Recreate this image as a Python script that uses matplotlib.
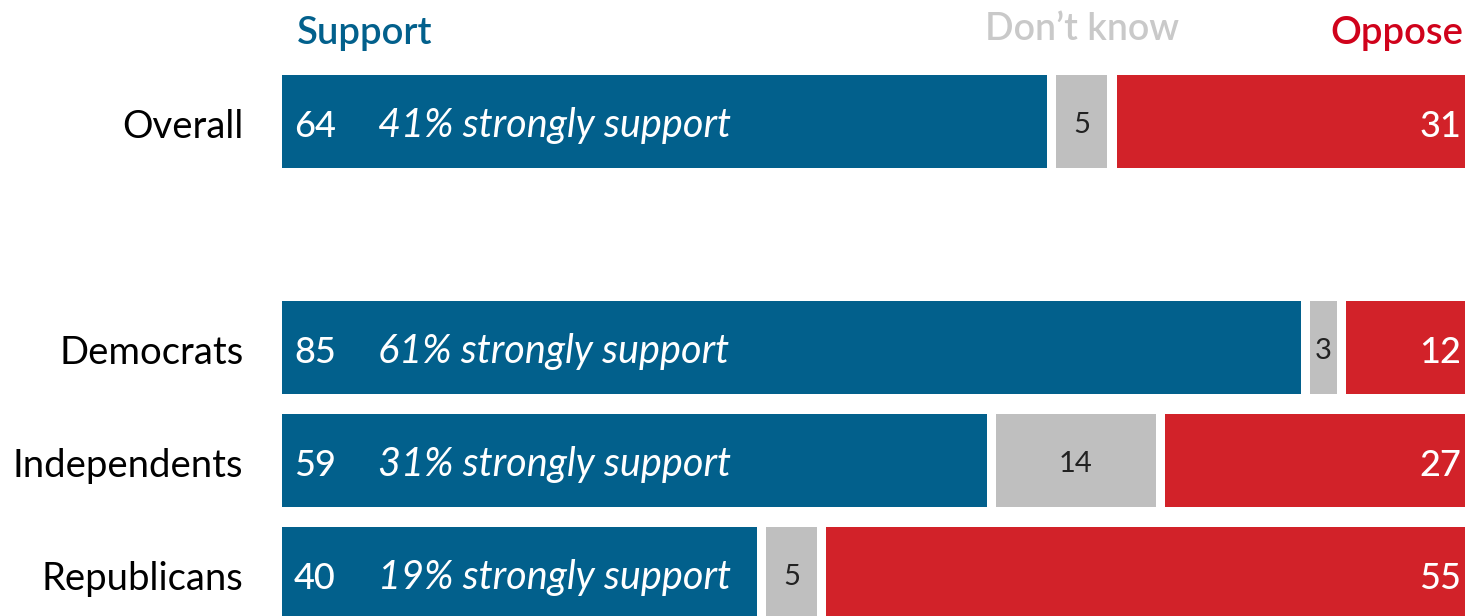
import matplotlib
matplotlib.use("Agg")
import matplotlib.pyplot as plt

plt.rcParams['font.family'] = ['Lato', 'DejaVu Sans']

# data
groups = ['Overall', 'Democrats', 'Independents', 'Republicans']
rows = [0, 2, 3, 4]                      # blank row between Overall and the parties
support = [64, 85, 59, 40]
dont_know = [5, 3, 14, 5]
oppose = [31, 12, 27, 55]
strongly = [41, 61, 31, 19]

blue = '#02608c'
gray = '#bfbfbf'
red = '#d22229'
gap = 0.75   # white space between segments, in percent units

fig = plt.figure(figsize=(14.65, 6.16), dpi=100)
# axis runs a bit past the right edge of the picture on purpose (cropped like the original)
ax = fig.add_axes([282 / 1465, 0, 1209.5 / 1465, 1])
ax.set_xlim(0, 100)
ax.set_ylim(4.376, -1.075)
ax.axis('off')

h = 0.82
for y, s, d, o, st in zip(rows, support, dont_know, oppose, strongly):
    ax.barh(y, s - gap, left=0, height=h, color=blue)
    ax.barh(y, d - gap, left=s, height=h, color=gray)
    ax.barh(y, o - gap, left=s + d, height=h, color=red)

    base = y + 0.137   # text baseline a little under the bar centre
    ax.text(1.0, base, str(s), color='white', fontsize=26, fontweight='medium',
            va='baseline', ha='left')
    ax.text(7.9, base, f'{st}% strongly support', color='white', fontsize=28.5,
            style='italic', va='baseline', ha='left')
    ax.text(s + (d - gap) / 2, y + 0.1, str(d), color='#222222', fontsize=21,
            va='baseline', ha='center')
    ax.text(97.5, base, str(o), color='white', fontsize=26, fontweight='medium',
            va='baseline', ha='right', clip_on=False)

for y, g in zip(rows, groups):
    ax.text(-3.2, y + 0.147, g, color='black', fontsize=27.5, va='baseline', ha='right')

# column headers
ax.text(1.2, -0.69, 'Support', color=blue, fontsize=27.5, fontweight='semibold',
        va='baseline', ha='left')
ax.text(support[0] + (dont_know[0] - gap) / 2, -0.72, 'Don\u2019t know', color='#c9c9c9',
        fontsize=27, fontweight='semibold', va='baseline', ha='center')
ax.text(86.7, -0.69, 'Oppose', color='#d0021b', fontsize=27.5,
        fontweight='semibold', va='baseline', ha='left')

fig.savefig('out.png', dpi=100)
